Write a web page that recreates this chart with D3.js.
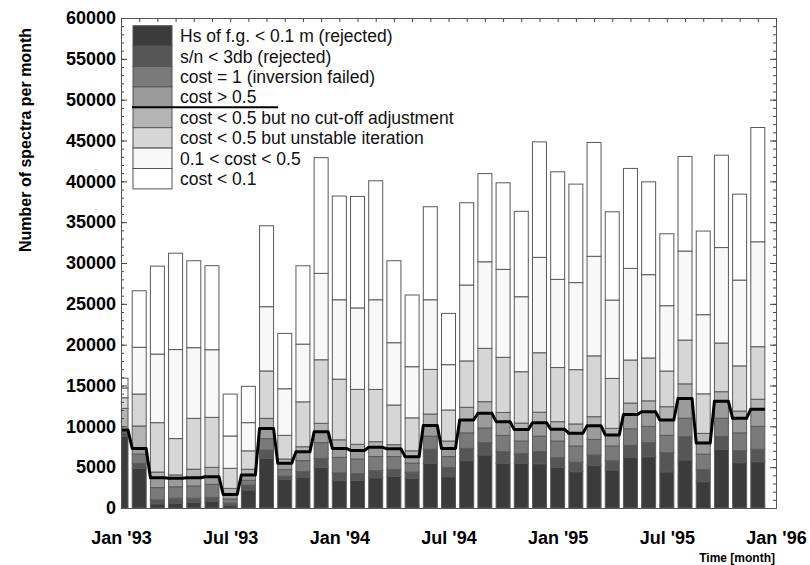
<!DOCTYPE html>
<html><head><meta charset="utf-8">
<script src="https://cdn.jsdelivr.net/npm/d3@7/dist/d3.min.js"></script>
<style>
body{margin:0;background:#fff}
svg{display:block}
text{font-family:"Liberation Sans",Arial,Helvetica,sans-serif}
</style>
</head><body>
<svg id="chart" width="810" height="565"></svg>
<script>
// ---- data (spectra per month, Jan 1993 .. Dec 1995) ----
const months = ["1993-01","1993-02","1993-03","1993-04","1993-05","1993-06","1993-07","1993-08","1993-09","1993-10","1993-11","1993-12",
"1994-01","1994-02","1994-03","1994-04","1994-05","1994-06","1994-07","1994-08","1994-09","1994-10","1994-11","1994-12",
"1995-01","1995-02","1995-03","1995-04","1995-05","1995-06","1995-07","1995-08","1995-09","1995-10","1995-11","1995-12"];
const hsRejected   = [8800,4860,500,600,700,800,300,2200,6080,3500,3760,5000,3350,3400,3700,3850,3630,5470,3840,5800,6490,5470,5470,5430,4960,4450,5220,4650,6240,6280,4420,5880,3220,7220,5550,5670];
const snRejected   = [300,610,500,600,500,500,300,600,1020,400,690,1080,950,800,870,850,770,1730,1110,1500,1510,1430,1180,1470,1200,1150,1270,1130,1430,1720,2350,2850,1480,1550,1470,1530];
const costOne      = [200,1130,1500,1400,1500,1600,500,600,1400,800,1350,1920,1900,1800,1730,1600,1100,1600,1350,1900,1800,2000,1550,1900,2040,2000,1910,1820,2030,2000,2130,2270,1900,2230,2180,2800];
const costGt05     = [250,700,1200,1050,1000,930,550,640,1250,770,1100,1340,1100,1050,1130,950,780,1300,1000,1580,1800,1670,1400,1650,1450,1540,1660,1340,1750,1790,1880,2420,1360,2060,1780,2100];
const noCutoff     = [2650,2740,700,400,1050,1150,750,700,1230,530,600,1030,1050,750,690,500,720,1400,900,1550,1420,1130,800,1280,920,1150,1120,820,1400,1330,1620,1780,1180,1180,890,1220];
const unstable     = [1300,3920,6050,4450,6230,6120,2460,2260,5800,2900,5500,7780,7430,6720,6400,4860,4040,5470,3800,5680,6530,6750,6290,7280,6630,6650,7450,6110,5270,5250,4370,5360,4840,5960,5530,6430];
const costMid      = [1200,5720,8400,10900,8650,8280,3960,3450,7870,5700,7070,10580,9720,9980,10980,7630,6260,8530,5550,9290,10600,10770,9180,11680,10800,10660,12190,9590,11220,10200,8000,10900,9690,11690,10510,12850];
const costLow      = [1200,6920,10770,11800,10650,10290,5130,4450,9910,6780,9590,14170,12700,13650,14570,10040,8780,11390,6280,10080,10800,10600,10460,14140,13170,12060,13940,10810,12240,11370,8810,11590,10240,11310,10520,13990];

const seriesNames = ["Hs of f.g. < 0.1 m (rejected)","s/n < 3db (rejected)","cost = 1 (inversion failed)","cost > 0.5",
  "cost < 0.5 but no cut-off adjustment","cost < 0.5 but unstable iteration","0.1 < cost < 0.5","cost < 0.1"];
const seriesColors = ["#3b3b3b","#565656","#7a7a7a","#9b9b9b","#b4b4b4","#d6d6d6","#f8f8f8","#ffffff"];
const xTickIndex = [0,6,12,18,24,30,36];
const xTickLabels = ["Jan '93","Jul '93","Jan '94","Jul '94","Jan '95","Jul '95","Jan '96"];
const yTickValues = [0,5000,10000,15000,20000,25000,30000,35000,40000,45000,50000,55000,60000];

// ---- build table ----
const keys = ["hs","sn","c1","c05","nc","un","mid","low"];
const cols = [hsRejected,snRejected,costOne,costGt05,noCutoff,unstable,costMid,costLow];
const table = months.map((m,i)=>{const r={i:i,m:m}; keys.forEach((k,j)=>r[k]=cols[j][i]); return r;});
const stacked = d3.stack().keys(keys)(table);

const svg = d3.select("#chart");
const L=121,R=776,T=18,B=508;
const x = d3.scaleLinear().domain([0,36]).range([L,R]);
const y = d3.scaleLinear().domain([0,60000]).range([B,T]);
const bw = 14;

svg.append("defs").append("clipPath").attr("id","plot")
  .append("rect").attr("x",L).attr("y",T).attr("width",R-L).attr("height",B-T);

const g = svg.append("g").attr("clip-path","url(#plot)");
stacked.forEach((layer,li)=>{
  g.append("g").selectAll("rect").data(layer).join("rect")
    .attr("x",d=>x(d.data.i)-bw/2).attr("width",bw)
    .attr("y",d=>y(d[1])).attr("height",d=>y(d[0])-y(d[1]))
    .attr("fill",seriesColors[li]).attr("stroke","#5a5a5a").attr("stroke-width",1);
});

// black line at top of "cost > 0.5"
const pts=[];
stacked[3].forEach(d=>{pts.push([x(d.data.i)-bw/2,y(d[1])]);pts.push([x(d.data.i)+bw/2,y(d[1])]);});
g.append("path").attr("d",d3.line()(pts)).attr("fill","none").attr("stroke","#000").attr("stroke-width",3).attr("stroke-linejoin","round");

// ---- axes ----
const minorY = d3.range(0,60001,1000);
function styleAxis(sel){sel.selectAll("path,line").attr("stroke","#444");sel.select(".domain").attr("stroke","#555");}
svg.append("g").attr("transform",`translate(${L},0)`).call(d3.axisLeft(y).tickValues(minorY).tickSize(-3).tickFormat("")).call(styleAxis);
svg.append("g").attr("transform",`translate(${R},0)`).call(d3.axisRight(y).tickValues(minorY).tickSize(-3).tickFormat("")).call(styleAxis);
svg.append("g").attr("transform",`translate(${R},0)`).call(d3.axisRight(y).tickValues(yTickValues).tickSize(-6).tickFormat("")).call(styleAxis);
const ya = svg.append("g").attr("transform",`translate(${L},0)`)
  .call(d3.axisLeft(y).tickValues(yTickValues).tickSize(-6).tickPadding(5).tickFormat(d3.format("d")));
ya.call(styleAxis);
ya.selectAll("text").attr("font-size",18).attr("font-weight","bold").attr("fill","#000").attr("font-family","'Liberation Sans',Arial,sans-serif");

svg.append("g").attr("transform",`translate(0,${T})`).call(d3.axisTop(x).tickValues(d3.range(0,37)).tickSize(-4).tickFormat("")).call(styleAxis);
const xa = svg.append("g").attr("transform",`translate(0,${B})`)
  .call(d3.axisBottom(x).tickValues(xTickIndex).tickSize(0).tickPadding(23).tickFormat((d,i)=>xTickLabels[i]));
xa.call(styleAxis);
xa.selectAll("text").attr("font-size",18).attr("font-weight","bold").attr("fill","#000").attr("font-family","'Liberation Sans',Arial,sans-serif");

// ---- titles ----
svg.append("text").attr("transform","translate(31,140) rotate(-90)").attr("text-anchor","middle")
  .attr("font-size",16).attr("font-weight","bold").attr("fill","#000").text("Number of spectra per month");
svg.append("text").attr("x",775).attr("y",562).attr("text-anchor","end")
  .attr("font-size",12).attr("font-weight","bold").attr("fill","#000").text("Time [month]");

// ---- legend ----
const lg = svg.append("g");
const rowH = 20.4, ly0 = 25.7, lx = 133, lw = 39;
seriesNames.forEach((n,i)=>{
  lg.append("rect").attr("x",lx).attr("y",ly0+i*rowH).attr("width",lw).attr("height",rowH)
    .attr("fill",seriesColors[i]).attr("stroke","#555").attr("stroke-width",1);
  lg.append("text").attr("x",180).attr("y",ly0+i*rowH+rowH/2).attr("dy","0.36em")
    .attr("font-size",17.5).attr("fill","#111").text(n);
});
lg.append("line").attr("x1",132).attr("x2",278).attr("y1",ly0+4*rowH).attr("y2",ly0+4*rowH)
  .attr("stroke","#000").attr("stroke-width",2);
</script>
</body></html>
